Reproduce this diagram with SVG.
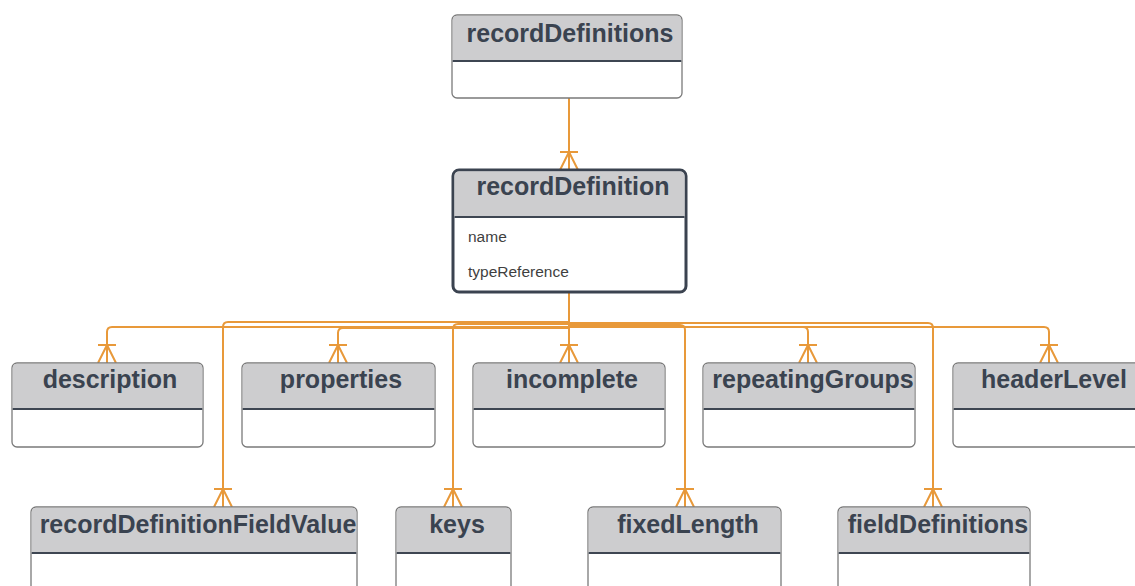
<svg xmlns="http://www.w3.org/2000/svg" width="1135" height="586" viewBox="0 0 1135 586">
<style>
.box{fill:#ffffff;stroke:#7a7a7a;stroke-width:1.3}
.main{fill:#ffffff;stroke:#3b4350;stroke-width:3}
.hdr{fill:#cdcdcf}
.div{stroke:#3e4652;stroke-width:1.8}
.title{font-family:"Liberation Sans",Arial,sans-serif;font-weight:bold;font-size:25px;fill:#3a4350;text-anchor:middle}
.attr{font-family:"Liberation Sans",Arial,sans-serif;font-size:15.5px;fill:#3f3f3f}
.conn{fill:none;stroke:#e8993a;stroke-width:2}
</style>
<defs>
<marker id="crow" viewBox="-21 -11 22 22" markerWidth="22" markerHeight="22" refX="0" refY="0" orient="auto" markerUnits="userSpaceOnUse" overflow="visible">
<path d="M-18,-9 V9 M-18,0 L0,-9 M-18,0 L0,9" fill="none" stroke="#e8993a" stroke-width="2"/>
</marker>
</defs>
<rect width="1135" height="586" fill="#ffffff"/>

<g id="connectors">
<path class="conn" d="M569,98 V170" marker-end="url(#crow)"/>
<path class="conn" d="M569,292 V327 H112 Q107,327 107,332 V363" marker-end="url(#crow)"/>
<path class="conn" d="M569,292 V322 H228 Q223,322 223,327 V507" marker-end="url(#crow)"/>
<path class="conn" d="M569,292 V328 H343 Q338,328 338,333 V363" marker-end="url(#crow)"/>
<path class="conn" d="M569,292 V324 H458 Q453,324 453,329 V507" marker-end="url(#crow)"/>
<path class="conn" d="M569,292 V363" marker-end="url(#crow)"/>
<path class="conn" d="M569,292 V325 H680 Q685,325 685,330 V507" marker-end="url(#crow)"/>
<path class="conn" d="M569,292 V327 H803 Q808,327 808,332 V363" marker-end="url(#crow)"/>
<path class="conn" d="M569,292 V323 H928 Q933,323 933,328 V507" marker-end="url(#crow)"/>
<path class="conn" d="M569,292 V327 H1044 Q1049,327 1049,332 V363" marker-end="url(#crow)"/>
</g>

<g id="recordDefinitions">
<rect class="box" x="452" y="15" width="230" height="83" rx="5"/>
<path class="hdr" d="M457,15.7 H677 Q681.3,15.7 681.3,20 V61 H452.7 V20 Q452.7,15.7 457,15.7 Z"/>
<line class="div" x1="452.7" y1="61" x2="681.3" y2="61"/>
<text class="title" x="570" y="42">recordDefinitions</text>
</g>

<g id="recordDefinition">
<rect class="main" x="453" y="170" width="233" height="122" rx="6"/>
<path class="hdr" d="M459,171.5 H680 Q684.5,171.5 684.5,176 V217 H454.5 V176 Q454.5,171.5 459,171.5 Z"/>
<line class="div" x1="454.5" y1="217" x2="684.5" y2="217" stroke-width="2.5"/>
<text class="title" x="573" y="195">recordDefinition</text>
<text class="attr" x="468" y="242">name</text>
<text class="attr" x="468" y="277">typeReference</text>
</g>

<g id="description">
<rect class="box" x="12" y="363" width="191" height="84" rx="5"/>
<path class="hdr" d="M17,363.7 H198 Q202.3,363.7 202.3,368 V409 H12.7 V368 Q12.7,363.7 17,363.7 Z"/>
<line class="div" x1="12.7" y1="409" x2="202.3" y2="409"/>
<text class="title" x="110" y="388">description</text>
</g>

<g id="properties">
<rect class="box" x="242" y="363" width="193" height="84" rx="5"/>
<path class="hdr" d="M247,363.7 H430 Q434.3,363.7 434.3,368 V409 H242.7 V368 Q242.7,363.7 247,363.7 Z"/>
<line class="div" x1="242.7" y1="409" x2="434.3" y2="409"/>
<text class="title" x="341" y="388">properties</text>
</g>

<g id="incomplete">
<rect class="box" x="473" y="363" width="192" height="84" rx="5"/>
<path class="hdr" d="M478,363.7 H660 Q664.3,363.7 664.3,368 V409 H473.7 V368 Q473.7,363.7 478,363.7 Z"/>
<line class="div" x1="473.7" y1="409" x2="664.3" y2="409"/>
<text class="title" x="572" y="388">incomplete</text>
</g>

<g id="repeatingGroups">
<rect class="box" x="703" y="363" width="212" height="84" rx="5"/>
<path class="hdr" d="M708,363.7 H910 Q914.3,363.7 914.3,368 V409 H703.7 V368 Q703.7,363.7 708,363.7 Z"/>
<line class="div" x1="703.7" y1="409" x2="914.3" y2="409"/>
<text class="title" x="813" y="388">repeatingGroups</text>
</g>

<g id="headerLevel">
<rect class="box" x="953" y="363" width="192" height="84" rx="5"/>
<path class="hdr" d="M958,363.7 H1140 Q1144.3,363.7 1144.3,368 V409 H953.7 V368 Q953.7,363.7 958,363.7 Z"/>
<line class="div" x1="953.7" y1="409" x2="1144.3" y2="409"/>
<text class="title" x="1054" y="388">headerLevel</text>
</g>

<g id="recordDefinitionFieldValue">
<rect class="box" x="31" y="507" width="326" height="100" rx="5"/>
<path class="hdr" d="M36,507.7 H352 Q356.3,507.7 356.3,512 V553 H31.7 V512 Q31.7,507.7 36,507.7 Z"/>
<line class="div" x1="31.7" y1="553" x2="356.3" y2="553"/>
<text class="title" x="198" y="533">recordDefinitionFieldValue</text>
</g>

<g id="keys">
<rect class="box" x="396" y="507" width="115" height="100" rx="5"/>
<path class="hdr" d="M401,507.7 H506 Q510.3,507.7 510.3,512 V553 H396.7 V512 Q396.7,507.7 401,507.7 Z"/>
<line class="div" x1="396.7" y1="553" x2="510.3" y2="553"/>
<text class="title" x="457" y="533">keys</text>
</g>

<g id="fixedLength">
<rect class="box" x="588" y="507" width="193" height="100" rx="5"/>
<path class="hdr" d="M593,507.7 H776 Q780.3,507.7 780.3,512 V553 H588.7 V512 Q588.7,507.7 593,507.7 Z"/>
<line class="div" x1="588.7" y1="553" x2="780.3" y2="553"/>
<text class="title" x="688" y="533">fixedLength</text>
</g>

<g id="fieldDefinitions">
<rect class="box" x="838" y="507" width="192" height="100" rx="5"/>
<path class="hdr" d="M843,507.7 H1025 Q1029.3,507.7 1029.3,512 V553 H838.7 V512 Q838.7,507.7 843,507.7 Z"/>
<line class="div" x1="838.7" y1="553" x2="1029.3" y2="553"/>
<text class="title" x="938" y="533">fieldDefinitions</text>
</g>
</svg>
